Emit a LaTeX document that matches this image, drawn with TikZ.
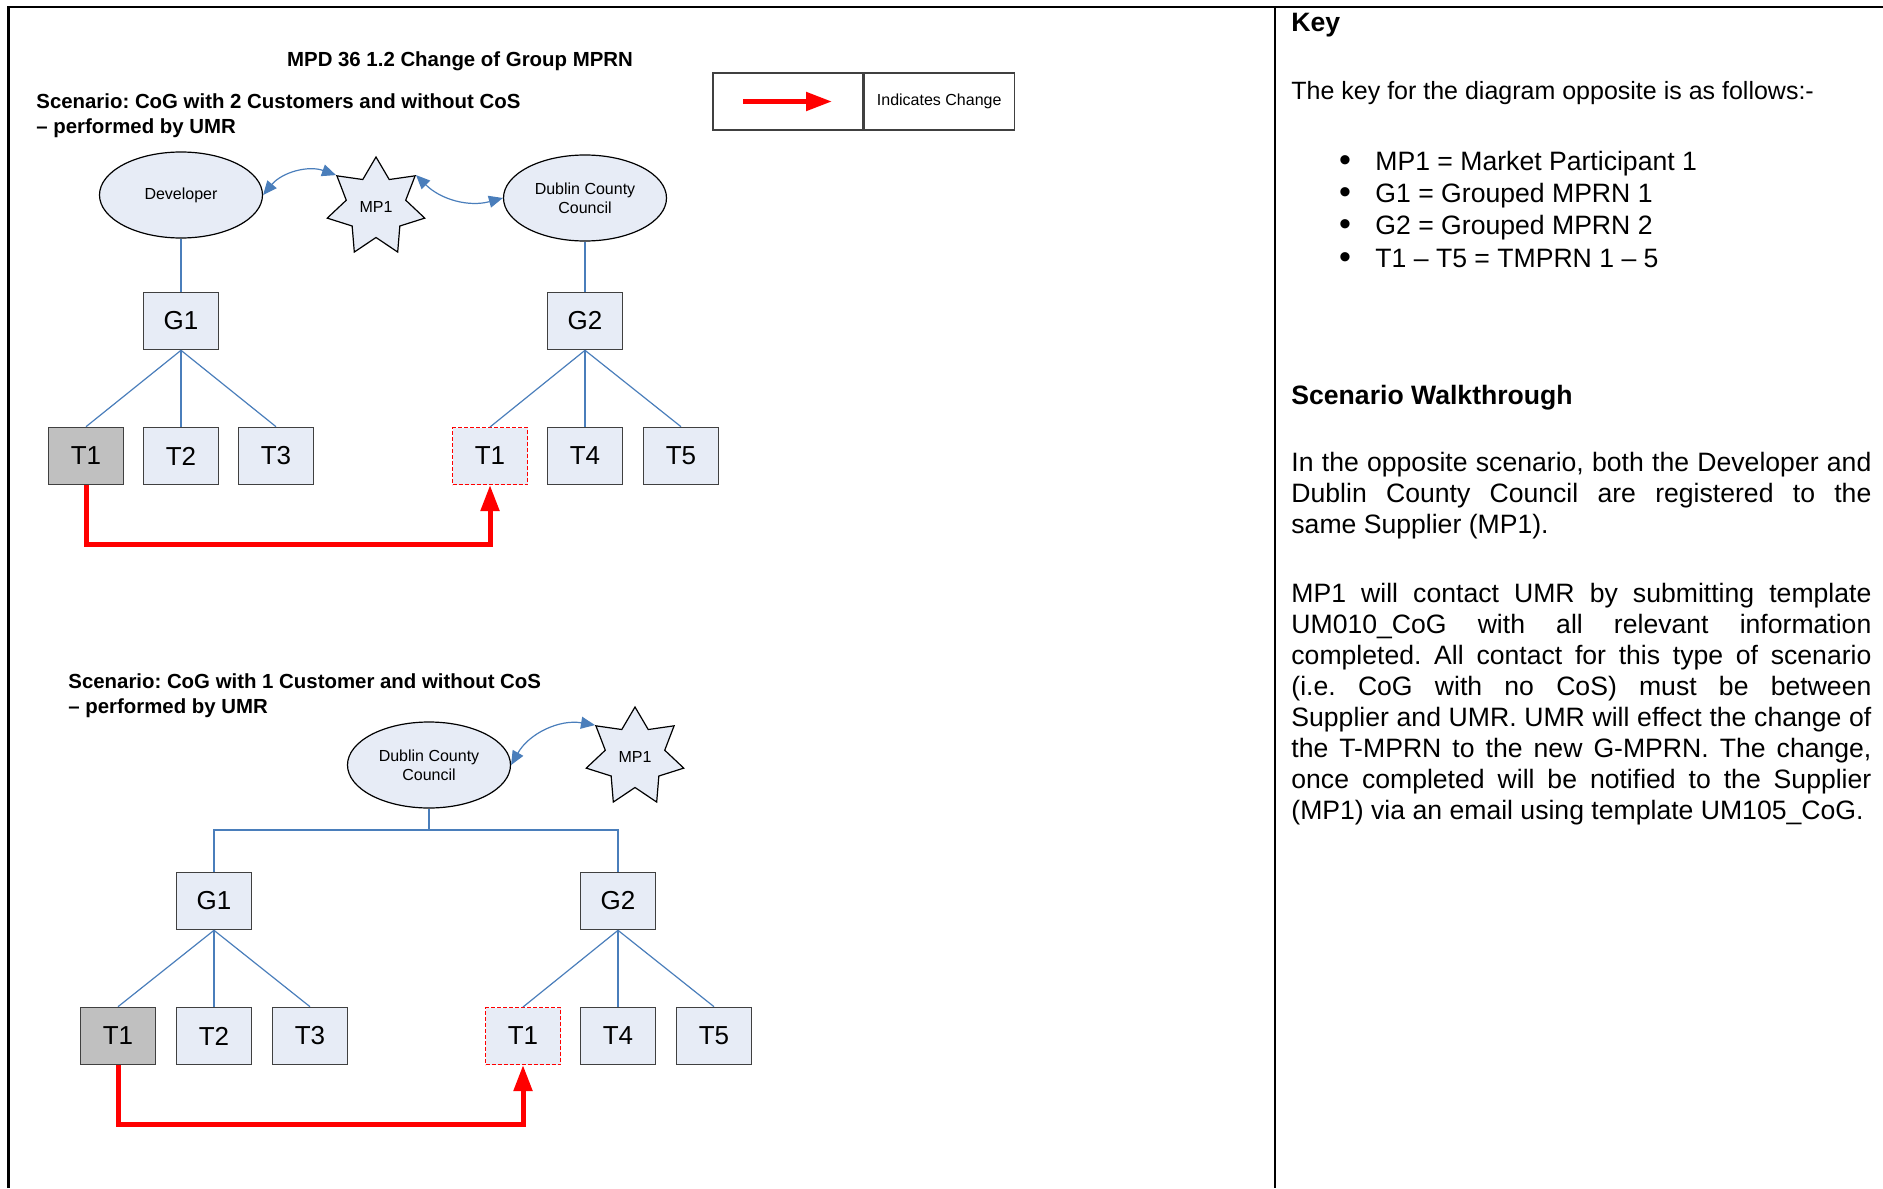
\documentclass[tikz,border=0pt]{standalone}
\usepackage{fontspec}
\setmainfont{Liberation Sans}
\usetikzlibrary{positioning,arrows.meta,shapes.geometric}
\definecolor{ink}{HTML}{000000}
\definecolor{boxline}{HTML}{404040}
\definecolor{boxfill}{HTML}{E7ECF6}
\definecolor{wireblue}{HTML}{4A7EBB}
\definecolor{oldgrey}{HTML}{C0C0C0}
\definecolor{changered}{HTML}{FF0000}

\begin{document}
\begin{tikzpicture}[
    x=0.5pt, y=0.5pt,
    party/.style={ellipse, draw=ink, line width=0.6pt, fill=boxfill,
                  minimum width=81.5pt, minimum height=43pt, inner sep=0pt,
                  align=center, font=\fontsize{8}{9.5}\selectfont},
    supplier/.style={star, star points=7, star point ratio=1.64,
                     minimum size=50pt, inner sep=0pt, draw=ink,
                     line width=0.6pt, fill=boxfill, font=\fontsize{8}{9.5}\selectfont},
    mprn/.style={rectangle, draw=boxline, line width=0.8pt, fill=boxfill,
                 minimum width=37.5pt, minimum height=28.5pt, inner sep=0pt,
                 font=\fontsize{13}{15}\selectfont},
    moved/.style={mprn, fill=oldgrey},
    target/.style={mprn, draw=changered, dash pattern=on 2pt off 1pt, line width=0.5pt},
    wire/.style={draw=wireblue, line width=0.6pt},
    contact/.style={wire, {Triangle[length=7pt,width=6pt]}-{Triangle[length=7pt,width=6pt]}},
    change/.style={draw=changered, line width=2.5pt, -{Triangle[length=13pt,width=9pt]}},
    heading/.style={anchor=north west, inner sep=0pt, align=left,
                    font=\fontsize{10.2}{12.5}\selectfont\bfseries\frenchspacing},
    keytext/.style={anchor=base west, inner sep=0pt, font=\fontsize{13.3}{15.5}\selectfont},
    para/.style={anchor=north west, inner sep=0pt, text width=290pt, align=justify,
                 font=\fontsize{13.3}{15.5}\selectfont\frenchspacing},
    legcell/.style={rectangle, draw=boxline, line width=0.6pt, minimum width=75pt,
                    minimum height=28.5pt, inner sep=0pt},
  ]
  \useasboundingbox (0,0) rectangle (1883,-1188);

  % frame
  \draw[line width=1.1pt] (8.5,-1188) -- (8.5,-7) -- (1883,-7);
  \draw[line width=1.1pt] (1275,-7) -- (1275,-1188);

  \node[anchor=base, inner sep=0pt, font=\fontsize{10.2}{12.5}\selectfont\bfseries] (title)
    at (460,-67) {MPD 36 1.2 Change of Group MPRN};

  % legend
  \node[legcell] (legarrow) at (788,-101.5) {};
  \node[legcell, right=0pt of legarrow, font=\fontsize{8}{9.5}\selectfont] (legtext) {Indicates Change};
  \draw[change] ([xshift=-22.5pt]legarrow.center) -- ([xshift=22pt]legarrow.center);

  % scenario 1
  \node[heading] (scenone) at (36,-93) {Scenario: CoG with 2 Customers and without CoS\\– performed by UMR};
  \node[party] (dev) at (181,-195) {Developer};
  \node[supplier] (mpone) at (376,-207) {MP1};
  \node[party] (dccone) at (585,-198) {Dublin County\\Council};

  \node[mprn] (gonea) at (181,-321) {G1};
  \node[mprn] (gtwoa) at (585,-321) {G2};
  \node[moved] (tonea) at (86,-456) {T1};
  \node[mprn] (ttwoa) at (181,-456) {T2};
  \node[mprn] (tthreea) at (276,-456) {T3};
  \node[target] (tnewa) at (490,-456) {T1};
  \node[mprn] (tfoura) at (585,-456) {T4};
  \node[mprn] (tfivea) at (681,-456) {T5};

  \draw[wire] (dev) -- (gonea);
  \draw[wire] (dccone) -- (gtwoa);
  \foreach \t in {tonea,ttwoa,tthreea} \draw[wire] (gonea.south) -- (\t.north);
  \foreach \t in {tnewa,tfoura,tfivea} \draw[wire] (gtwoa.south) -- (\t.north);

  \draw[contact] (dev.east) to[bend left=35] (mpone.outer point 2);
  \draw[contact] (mpone.outer point 7) to[bend right=30] (dccone.west);

  \draw[change] (tonea.south) -- ++(0,-59) -| (tnewa.south);

  % scenario 2
  \node[heading] (scentwo) at (68,-673) {Scenario: CoG with 1 Customer and without CoS\\– performed by UMR};
  \node[party] (dcctwo) at (429,-765) {Dublin County\\Council};
  \node[supplier] (mptwo) at (635,-757) {MP1};

  \node[mprn] (goneb) at (214,-901) {G1};
  \node[mprn] (gtwob) at (618,-901) {G2};
  \node[moved] (toneb) at (118,-1036) {T1};
  \node[mprn] (ttwob) at (214,-1036) {T2};
  \node[mprn] (tthreeb) at (310,-1036) {T3};
  \node[target] (tnewb) at (523,-1036) {T1};
  \node[mprn] (tfourb) at (618,-1036) {T4};
  \node[mprn] (tfiveb) at (714,-1036) {T5};

  \coordinate (split) at (429,-830);
  \draw[wire] (dcctwo) -- (split);
  \draw[wire] (split) -| (goneb);
  \draw[wire] (split) -| (gtwob);
  \foreach \t in {toneb,ttwob,tthreeb} \draw[wire] (goneb.south) -- (\t.north);
  \foreach \t in {tnewb,tfourb,tfiveb} \draw[wire] (gtwob.south) -- (\t.north);

  \draw[contact] (dcctwo.east) to[bend left=35] (mptwo.outer point 2);

  \draw[change] (toneb.south) -- ++(0,-59.5) -| (tnewb.south);

  % key and walkthrough
  \node[keytext, font=\fontsize{13.3}{15.5}\selectfont\bfseries] (keyhead) at (1291,-32) {Key};
  \node[keytext, font=\fontsize{12.5}{15.5}\selectfont] (keyintro) at (1291,-100) {The key for the diagram opposite is as follows:-};
  \foreach \entry [count=\i] in {MP1 = Market Participant 1, G1 = Grouped MPRN 1,
                                 G2 = Grouped MPRN 2, T1 – T5 = TMPRN 1 – 5} {
    \node[keytext, anchor=base, font=\fontsize{17}{17}\selectfont] (bullet\i) at (1345,{-171-32.4*(\i-1)}) {\textbullet};
    \node[keytext] (entry\i) at (1375,{-170-32.4*(\i-1)}) {\entry};
  }

  \node[keytext, font=\fontsize{13.3}{15.5}\selectfont\bfseries] (walkhead) at (1291,-404) {Scenario Walkthrough};
  \node[para] (paraone) at (1291,-452) {In the opposite scenario, both the Developer and\linebreak
    Dublin County Council are registered to the\linebreak
    same Supplier (MP1).};
  \node[para] (paratwo) at (1291,-583) {MP1 will contact UMR by submitting template\linebreak
    UM010\_CoG with all relevant information\linebreak
    completed. All contact for this type of scenario\linebreak
    (i.e. CoG with no CoS) must be between\linebreak
    Supplier and UMR. UMR will effect the change of\linebreak
    the T-MPRN to the new G-MPRN. The change,\linebreak
    once completed will be notified to the Supplier\linebreak
    (MP1) via an email using template UM105\_CoG.};
\end{tikzpicture}
\end{document}
